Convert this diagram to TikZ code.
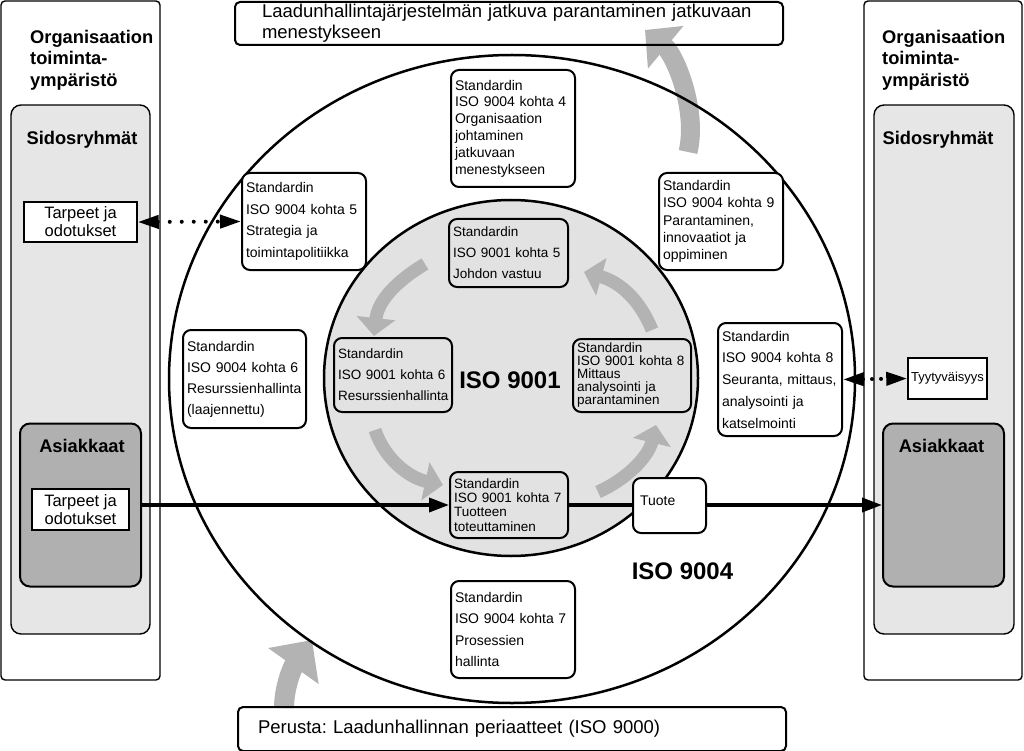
\documentclass[tikz,border=0pt]{standalone}
\usepackage{fontspec}
\setmainfont{Liberation Sans}
\usetikzlibrary{arrows.meta}
\definecolor{sidosgray}{HTML}{E6E6E6}
\definecolor{circgray}{HTML}{E2E2E2}
\definecolor{asgray}{HTML}{B0B0B0}
\definecolor{arrgray}{HTML}{B3B3B3}
\frenchspacing
\begin{document}
\begin{tikzpicture}[x=1pt,y=-1pt,
  panel/.style={draw, line width=1.4pt, rounded corners=4pt, inner sep=0pt},
  sidos/.style={draw, line width=1.4pt, rounded corners=10pt, fill=sidosgray, inner sep=0pt},
  asbox/.style={draw, line width=2pt, rounded corners=10pt, fill=asgray, inner sep=0pt},
  needbox/.style={draw, line width=1.5pt, fill=white, inner sep=0pt, align=center, font=\fontsize{16.5}{18}\selectfont},
  ttl/.style={inner sep=0pt, align=left, font=\bfseries\fontsize{18.3}{21.5}\selectfont},
  bigttl/.style={inner sep=0pt, font=\bfseries\fontsize{24}{28}\selectfont},
  sbox/.style={draw, line width=2pt, rounded corners=8pt, fill=white, inner sep=0pt, align=left},
  ibox/.style={sbox, fill=circgray},
  framebox/.style={draw, line width=2pt, rounded corners=5pt, inner sep=0pt, align=left, font=\fontsize{18.5}{21}\selectfont},
  garrow/.style={draw=arrgray, line width=13pt, -{Triangle[length=18pt,width=38pt]}},
  bigarrowA/.style={draw=arrgray, line width=19pt, -{Triangle[length=27pt,width=54pt]}},
  bigarrowB/.style={draw=arrgray, line width=20pt, -{Triangle[length=32pt,width=60pt]}},
  mainarrow/.style={line width=3.6pt, -{Triangle[length=20pt,width=14pt]}},
  dotarrow/.style={line width=4pt, line cap=round, {Triangle[length=21pt,width=13pt]}-{Triangle[length=21pt,width=13pt]}},
]
\useasboundingbox (0,0) rectangle (1024,751);

% side panels
\node[panel, minimum width=159pt, minimum height=679pt] (panelL) at (80.5,340.5) {};
\node[panel, minimum width=158pt, minimum height=679pt] (panelR) at (943,340.5) {};
\node[sidos, minimum width=139pt, minimum height=529pt] (sidosL) at (80.5,369.5) {};
\node[sidos, minimum width=140pt, minimum height=529pt] (sidosR) at (944,369.5) {};
\node[asbox, minimum width=121pt, minimum height=163pt] (asL) at (80.5,505) {};
\node[asbox, minimum width=121pt, minimum height=163pt] (asR) at (943.5,505) {};
\node[ttl, anchor=north west] (orgL) at (30,30) {Organisaation\\toiminta-\\ympäristö};
\node[ttl, anchor=north west] (orgR) at (882,30) {Organisaation\\toiminta-\\ympäristö};
\node[ttl] (sidL) at (82,140) {Sidosryhmät};
\node[ttl] (sidR) at (938,140) {Sidosryhmät};
\node[ttl] (asLt) at (82,446) {Asiakkaat};
\node[ttl] (asRt) at (941.5,446) {Asiakkaat};
\node[needbox, minimum width=113pt, minimum height=40pt] (needL1) at (80.5,222) {Tarpeet ja\\odotukset};
\node[needbox, minimum width=97pt, minimum height=41pt] (needL2) at (80.5,509.5) {Tarpeet ja\\odotukset};
\node[needbox, minimum width=79pt, minimum height=41pt, font=\fontsize{13}{15}\selectfont] (tyyt) at (947.5,378.5) {Tyytyväisyys};

% inner circle fill
\fill[circgray] (511,378) ellipse [x radius=187, y radius=178];

% gray arrows
\draw[garrow] (425,264) .. controls (398,280) and (378,300) .. (374,336);
\draw[garrow] (375,430) .. controls (385,460) and (410,478) .. (443,485);
\draw[garrow] (598,492) .. controls (625,480) and (648,458) .. (656,425);
\draw[garrow] (652,330) .. controls (640,300) and (620,282) .. (584,272);
\draw[bigarrowA] (688,152) .. controls (698,110) and (675,55) .. (645,30);
\draw[bigarrowB] (284,708) .. controls (284,688) and (292,668) .. (312,640);

% circle outlines
\draw[line width=2.5pt] (512,379) ellipse [x radius=343, y radius=324];
\draw[line width=2.5pt] (511,378) ellipse [x radius=187, y radius=178];

% ISO 9004 boxes
\node[sbox, font=\fontsize{14}{16.8}\selectfont, text width=116pt, minimum width=124pt, minimum height=117pt] (k4) at (513,128.5) {Standardin\\ISO 9004 kohta 4\\Organisaation\\johtaminen\\jatkuvaan\\menestykseen};
\node[sbox, font=\fontsize{14}{21.5}\selectfont, text width=116pt, minimum width=124pt, minimum height=97pt] (k5) at (304,221.5) {Standardin\\ISO 9004 kohta 5\\Strategia ja\\toimintapolitiikka};
\node[sbox, font=\fontsize{14}{17.2}\selectfont, text width=116pt, minimum width=124pt, minimum height=97pt] (k9) at (721,221.5) {Standardin\\ISO 9004 kohta 9\\Parantaminen,\\innovaatiot ja\\oppiminen};
\node[sbox, font=\fontsize{14}{21}\selectfont, text width=115pt, minimum width=123pt, minimum height=98pt] (k6) at (244.5,379) {Standardin\\ISO 9004 kohta 6\\Resurssienhallinta\\(laajennettu)};
\node[sbox, font=\fontsize{14}{21.75}\selectfont, text width=116pt, minimum width=124pt, minimum height=113pt] (k8) at (780,379.5) {Standardin\\ISO 9004 kohta 8\\Seuranta, mittaus,\\analysointi ja\\katselmointi};
\node[sbox, font=\fontsize{14}{21.3}\selectfont, text width=116pt, minimum width=124pt, minimum height=97pt] (k7) at (513,629.5) {Standardin\\ISO 9004 kohta 7\\Prosessien\\hallinta};

% ISO 9001 boxes
\node[ibox, font=\fontsize{13.5}{21}\selectfont, text width=111pt, minimum width=119pt, minimum height=68pt] (s5) at (508.5,253) {Standardin\\ISO 9001 kohta 5\\Johdon vastuu};
\node[ibox, font=\fontsize{13.5}{21}\selectfont, text width=110pt, minimum width=118pt, minimum height=74pt] (s6) at (393,375) {Standardin\\ISO 9001 kohta 6\\Resurssienhallinta};
\node[ibox, font=\fontsize{13.5}{13}\selectfont, text width=110pt, minimum width=118pt, minimum height=73pt] (s8) at (632,375.5) {Standardin\\ISO 9001 kohta 8\\Mittaus\\analysointi ja\\parantaminen};
\node[ibox, font=\fontsize{13.5}{14.3}\selectfont, text width=110pt, minimum width=118pt, minimum height=66pt] (s7) at (509,505) {Standardin\\ISO 9001 kohta 7\\Tuotteen\\toteuttaminen};

% connectors
\draw[mainarrow] (asL.east) -- (s7.west);
\draw[mainarrow] (s7.east) -- (asR.west);
\draw[dotarrow, dash pattern=on 0pt off 12pt] (needL1.east) -- (k5.west);
\draw[dotarrow, dash pattern=on 0pt off 9pt] (k8.east) -- (tyyt.west);

\node[sbox, font=\fontsize{14}{16}\selectfont, text width=59pt, minimum width=73pt, text height=27pt, text depth=28pt] (tuote) at (669.5,505.5) {Tuote};

% titles
\node[bigttl] (iso1) at (510,380) {ISO 9001};
\node[bigttl] (iso4) at (682.5,571) {ISO 9004};

% frames
\node[framebox, minimum width=548pt, minimum height=43pt, text width=494pt] (topbox) at (509,23.5) {Laadunhallintajärjestelmän jatkuva parantaminen jatkuvaan\\menestykseen};
\node[framebox, minimum width=548pt, minimum height=44pt, text width=508pt] (botbox) at (512,729) {Perusta: Laadunhallinnan periaatteet (ISO 9000)};
\end{tikzpicture}
\end{document}
